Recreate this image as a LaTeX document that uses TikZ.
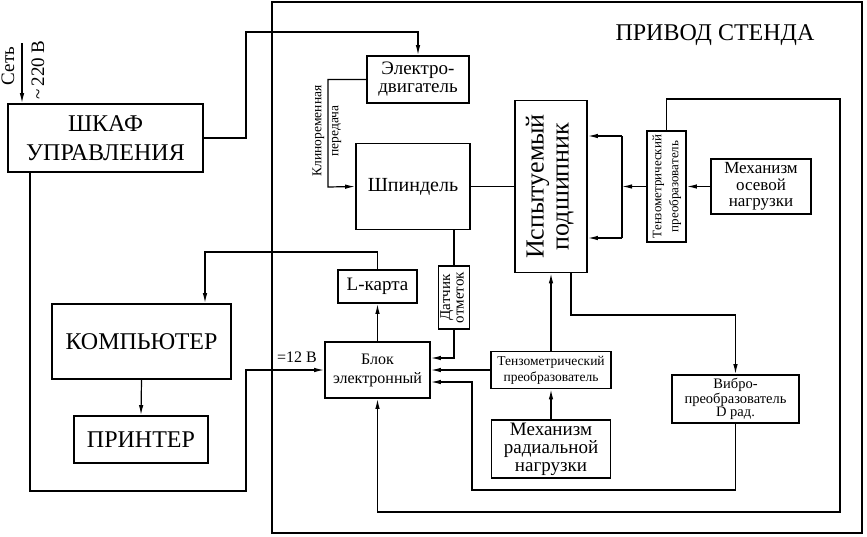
\documentclass[tikz,border=0pt]{standalone}
\usepackage{fontspec}
\setmainfont{Liberation Serif}
\usepackage{graphicx}
\usetikzlibrary{arrows.meta}
\newcommand{\fsz}[2]{\fontsize{#1}{#2}\selectfont}
\newcommand{\sidetext}[1]{\rotatebox{90}{\begin{tabular}{@{}c@{}}#1\end{tabular}}}

\begin{document}
\begin{tikzpicture}[x=1pt,y=-1pt,
  blk/.style={draw, line width=1.8pt, align=center, inner sep=1pt},
  wire/.style={line width=1.2pt},
  arr/.style={wire, -{Latex[length=10pt,width=4.5pt]}}]
\useasboundingbox (0,0) rectangle (867,536);

\node[draw, line width=2.6pt, minimum width=590pt, minimum height=531pt, inner sep=0pt] (stend) at (567,267.5) {};
\node[font=\fsz{24}{28}] (title) at (715,35) {ПРИВОД СТЕНДА};

\node[blk, minimum width=195pt, minimum height=68pt, font=\fsz{24}{29}] (shkaf) at (105.5,138) {ШКАФ\\УПРАВЛЕНИЯ};
\node[blk, minimum width=179pt, minimum height=75pt, font=\fsz{24}{28}] (comp) at (141.5,341.5) {КОМПЬЮТЕР};
\node[blk, minimum width=134pt, minimum height=47pt, font=\fsz{24}{28}] (printer) at (141,439.5) {ПРИНТЕР};
\node[blk, minimum width=102pt, minimum height=47pt, font=\fsz{19}{18}] (motor) at (418,79.5) {Электро-\\двигатель};
\node[blk, minimum width=114pt, minimum height=86pt, font=\fsz{20}{24}] (spindle) at (413,186.5) {Шпиндель};
\node[blk, minimum width=72pt, minimum height=172pt, font=\fsz{26}{25}] (bearing) at (551,186.5) {\sidetext{Испытуемый\\подшипник}};
\node[blk, minimum width=39pt, minimum height=111pt, font=\fsz{13}{17}] (tenzA) at (666.5,186.5) {\sidetext{Тензометрический\\преобразователь}};
\node[blk, minimum width=100pt, minimum height=55pt, font=\fsz{17}{16.5}] (mechA) at (761,186.5) {Механизм\\осевой\\нагрузки};
\node[blk, minimum width=79pt, minimum height=33pt, font=\fsz{19}{22}] (lcard) at (377.5,286.5) {L-карта};
\node[blk, minimum width=31pt, minimum height=63pt, font=\fsz{15}{13.5}] (datchik) at (454,297.5) {\sidetext{Датчик\\отметок}};
\node[blk, minimum width=105pt, minimum height=56pt, font=\fsz{16}{19}] (blok) at (377.5,370) {Блок\\электронный};
\node[blk, minimum width=120pt, minimum height=37pt, font=\fsz{13.5}{16}] (tenzR) at (551,370) {Тензометрический\\преобразователь};
\node[blk, minimum width=119pt, minimum height=58pt, font=\fsz{19}{18}] (mechR) at (551,449) {Механизм\\радиальной\\нагрузки};
\node[blk, minimum width=127pt, minimum height=48pt, font=\fsz{14.5}{11.5}] (vibro) at (735.5,399) {Вибро-\\преобразователь\\D рад.};

\node[rotate=90, font=\fsz{19}{22}] (set) at (8,66) {Сеть};
\node[rotate=90, font=\fsz{19}{22}] (volt) at (38,70) {\textasciitilde\,220 В};
\node[rotate=90, align=center, font=\fsz{13.5}{17}] (belttxt) at (327,131) {Клиноременная\\передача};
\node[font=\fsz{16}{18}] (dc) at (297,357) {=12 В};

\coordinate (mains) at (22,43);
\coordinate (up) at (246,32);
\coordinate (belt) at (328,187);
\coordinate (lnk) at (205,252);
\coordinate (pw) at (246,491);
\coordinate (vb) at (472,490);
\coordinate (ta) at (840,99);
\coordinate (tb) at (840,512);
\coordinate (bv) at (735.5,315);
\coordinate (busT) at (622,136);
\coordinate (busB) at (622,238);

\draw[arr] (mains) -- (mains |- shkaf.north);
\draw[arr] (shkaf.east) -| (up) -| (motor.north);
\draw[arr] ([xshift=-75.5pt]shkaf.south) |- (pw) |- (blok.west);
\draw[arr] (motor.west) -| (belt) -- (spindle.west);
\draw[wire] (spindle.east) -- (bearing.west);
\draw[wire] (spindle.south -| datchik.north) -- (datchik.north);
\draw[arr] (datchik.south) |- ([yshift=12pt]blok.east);
\draw[arr] (tenzR.west) -- (blok.east);
\draw[arr] (vibro.south) |- (vb) |- ([yshift=-12pt]blok.east);
\draw[arr] (tenzA.north) |- (ta) -- (tb) -| (blok.south);
\draw[arr] ([xshift=20pt]bearing.south) |- (bv) -- (vibro.north);
\draw[arr] (tenzR.north) -- (bearing.south);
\draw[arr] (mechR.north) -- (tenzR.south);
\draw[arr] (blok.north) -- (lcard.south);
\draw[arr] (lcard.north) |- (lnk) -- (lnk |- comp.north);
\draw[arr] (comp.south) -- (printer.north);
\draw[wire] (busT) -- (busB);
\draw[arr] (tenzA.west) -- (tenzA.west -| busT);
\draw[arr] (busT) -- (busT -| bearing.east);
\draw[arr] (busB) -- (busB -| bearing.east);
\draw[arr] (mechA.west) -- (tenzA.east);

\end{tikzpicture}
\end{document}
